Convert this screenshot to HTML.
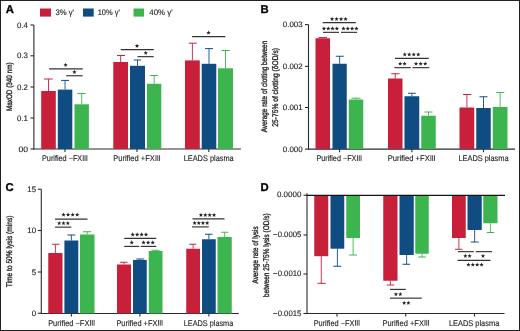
<!DOCTYPE html>
<html><head><meta charset="utf-8"><style>
html,body{margin:0;padding:0;background:#fff;}
svg{display:block;font-family:"Liberation Sans", sans-serif;will-change:transform;text-rendering:geometricPrecision;} text{fill:#262626;stroke:#262626;stroke-width:0.14px} text.b{fill:#000;stroke:#000;stroke-width:0.3px;} text.v{fill:#1a1a1a;stroke:#1a1a1a;stroke-width:0.32px;}
</style></head><body>
<svg width="520" height="331" viewBox="0 0 520 331">
<rect width="520" height="331" fill="#fff"/>
<rect x="0.5" y="0.5" width="519" height="330" fill="none" stroke="#222" stroke-width="1"/>
<text class="b" x="5.7" y="13.0" font-size="11.3" text-anchor="start" font-weight="bold">A</text>
<rect x="40" y="8.5" width="11.00" height="8.10" fill="#C8203A"/>
<rect x="83" y="8.5" width="10.70" height="8.10" fill="#0E4C82"/>
<rect x="133.5" y="8.5" width="10.50" height="8.10" fill="#3DB54E"/>
<text x="55.4" y="14.9" font-size="8" text-anchor="start" font-weight="normal" textLength="18.6" lengthAdjust="spacingAndGlyphs">3% γ'</text>
<text x="97.7" y="14.9" font-size="8" text-anchor="start" font-weight="normal" textLength="22.3" lengthAdjust="spacingAndGlyphs">10% γ'</text>
<text x="149.3" y="14.9" font-size="8" text-anchor="start" font-weight="normal" textLength="23.4" lengthAdjust="spacingAndGlyphs">40% γ'</text>
<line x1="33.9" y1="25" x2="33.9" y2="149.5" stroke="#2a2a2a" stroke-width="1.1"/>
<line x1="30.5" y1="25" x2="33.9" y2="25" stroke="#2a2a2a" stroke-width="1.1"/>
<text x="28.0" y="27.5" font-size="7.9" text-anchor="end" font-weight="normal">0.4</text>
<line x1="30.5" y1="55.8" x2="33.9" y2="55.8" stroke="#2a2a2a" stroke-width="1.1"/>
<text x="28.0" y="58.3" font-size="7.9" text-anchor="end" font-weight="normal">0.3</text>
<line x1="30.5" y1="87" x2="33.9" y2="87" stroke="#2a2a2a" stroke-width="1.1"/>
<text x="28.0" y="89.5" font-size="7.9" text-anchor="end" font-weight="normal">0.2</text>
<line x1="30.5" y1="118" x2="33.9" y2="118" stroke="#2a2a2a" stroke-width="1.1"/>
<text x="28.0" y="120.5" font-size="7.9" text-anchor="end" font-weight="normal">0.1</text>
<line x1="30.5" y1="149" x2="33.9" y2="149" stroke="#2a2a2a" stroke-width="1.1"/>
<text x="28.0" y="151.5" font-size="7.9" text-anchor="end" font-weight="normal" textLength="9.6" lengthAdjust="spacingAndGlyphs">00</text>
<line x1="33.4" y1="149" x2="241" y2="149" stroke="#2a2a2a" stroke-width="1.2"/>
<line x1="65" y1="149" x2="65" y2="152" stroke="#2a2a2a" stroke-width="1.1"/>
<line x1="137" y1="149" x2="137" y2="152" stroke="#2a2a2a" stroke-width="1.1"/>
<line x1="208.8" y1="149" x2="208.8" y2="152" stroke="#2a2a2a" stroke-width="1.1"/>
<rect x="41.2" y="91" width="14.60" height="58.00" fill="#C8203A"/>
<line x1="48.5" y1="91" x2="48.5" y2="79" stroke="#C8203A" stroke-width="0.9"/>
<line x1="44.1" y1="79" x2="52.75" y2="79" stroke="#C8203A" stroke-width="1.0"/>
<rect x="57.8" y="89.6" width="14.50" height="59.40" fill="#0E4C82"/>
<line x1="65.05" y1="89.6" x2="65.05" y2="80.4" stroke="#0E4C82" stroke-width="0.9"/>
<line x1="61" y1="80.4" x2="69" y2="80.4" stroke="#0E4C82" stroke-width="1.0"/>
<rect x="74.5" y="104.3" width="14.40" height="44.70" fill="#3DB54E"/>
<line x1="81.7" y1="104.3" x2="81.7" y2="93.5" stroke="#3DB54E" stroke-width="0.9"/>
<line x1="77.3" y1="93.5" x2="85.6" y2="93.5" stroke="#3DB54E" stroke-width="1.0"/>
<rect x="113.3" y="62" width="14.70" height="87.00" fill="#C8203A"/>
<line x1="120.65" y1="62" x2="120.65" y2="55.5" stroke="#C8203A" stroke-width="0.9"/>
<line x1="117" y1="55.5" x2="125" y2="55.5" stroke="#C8203A" stroke-width="1.0"/>
<rect x="130" y="65.8" width="15.00" height="83.20" fill="#0E4C82"/>
<line x1="137.5" y1="65.8" x2="137.5" y2="60" stroke="#0E4C82" stroke-width="0.9"/>
<line x1="133.75" y1="60" x2="141.25" y2="60" stroke="#0E4C82" stroke-width="1.0"/>
<rect x="147" y="83.8" width="14.30" height="65.20" fill="#3DB54E"/>
<line x1="154.15" y1="83.8" x2="154.15" y2="75.5" stroke="#3DB54E" stroke-width="0.9"/>
<line x1="150" y1="75.5" x2="158" y2="75.5" stroke="#3DB54E" stroke-width="1.0"/>
<rect x="185" y="60.4" width="14.80" height="88.60" fill="#C8203A"/>
<line x1="192.4" y1="60.4" x2="192.4" y2="43.2" stroke="#C8203A" stroke-width="0.9"/>
<line x1="188.75" y1="43.2" x2="196.75" y2="43.2" stroke="#C8203A" stroke-width="1.0"/>
<rect x="201.7" y="63.8" width="14.60" height="85.20" fill="#0E4C82"/>
<line x1="209.0" y1="63.8" x2="209.0" y2="48.6" stroke="#0E4C82" stroke-width="0.9"/>
<line x1="205" y1="48.6" x2="213" y2="48.6" stroke="#0E4C82" stroke-width="1.0"/>
<rect x="218" y="68.3" width="15.00" height="80.70" fill="#3DB54E"/>
<line x1="225.5" y1="68.3" x2="225.5" y2="50.5" stroke="#3DB54E" stroke-width="0.9"/>
<line x1="221.5" y1="50.5" x2="229.8" y2="50.5" stroke="#3DB54E" stroke-width="1.0"/>
<line x1="49.1" y1="68.9" x2="82.75" y2="68.9" stroke="#333" stroke-width="1.15"/>
<polygon points="65.60,62.75 66.18,64.21 67.74,64.30 66.53,65.30 66.92,66.82 65.60,65.98 64.28,66.82 64.67,65.30 63.46,64.30 65.02,64.21" fill="#222"/>
<line x1="66.25" y1="75.75" x2="82.75" y2="75.75" stroke="#333" stroke-width="1.15"/>
<polygon points="74.40,69.85 74.98,71.31 76.54,71.40 75.33,72.40 75.72,73.92 74.40,73.08 73.08,73.92 73.47,72.40 72.26,71.40 73.82,71.31" fill="#222"/>
<line x1="120.75" y1="49.65" x2="153.75" y2="49.65" stroke="#333" stroke-width="1.15"/>
<polygon points="137.00,43.65 137.58,45.11 139.14,45.20 137.93,46.20 138.32,47.72 137.00,46.88 135.68,47.72 136.07,46.20 134.86,45.20 136.42,45.11" fill="#222"/>
<line x1="137.5" y1="56.65" x2="153.75" y2="56.65" stroke="#333" stroke-width="1.15"/>
<polygon points="145.75,50.75 146.33,52.21 147.89,52.30 146.68,53.30 147.07,54.82 145.75,53.98 144.43,54.82 144.82,53.30 143.61,52.30 145.17,52.21" fill="#222"/>
<line x1="192.1" y1="36.55" x2="225.3" y2="36.55" stroke="#333" stroke-width="1.15"/>
<polygon points="208.50,30.45 209.08,31.91 210.64,32.00 209.43,33.00 209.82,34.52 208.50,33.68 207.18,34.52 207.57,33.00 206.36,32.00 207.92,31.91" fill="#222"/>
<text x="42.0" y="161" font-size="8.3" text-anchor="start" font-weight="normal" textLength="40.2" lengthAdjust="spacingAndGlyphs">Purified −FX</text>
<rect x="82.75" y="155.20" width="1.0" height="5.8" fill="#4a4a4a"/>
<rect x="84.55" y="155.20" width="1.0" height="5.8" fill="#4a4a4a"/>
<rect x="86.35" y="155.20" width="1.0" height="5.8" fill="#4a4a4a"/>
<text x="113.2" y="161" font-size="8.3" text-anchor="start" font-weight="normal" textLength="41.7" lengthAdjust="spacingAndGlyphs">Purified +FX</text>
<rect x="155.45" y="155.20" width="1.0" height="5.8" fill="#4a4a4a"/>
<rect x="157.25" y="155.20" width="1.0" height="5.8" fill="#4a4a4a"/>
<rect x="159.05" y="155.20" width="1.0" height="5.8" fill="#4a4a4a"/>
<text x="183.70000000000002" y="161" font-size="8.3" text-anchor="start" font-weight="normal" textLength="50.0" lengthAdjust="spacingAndGlyphs">LEADS plasma</text>
<text class="v" transform="translate(11.6,86.75) rotate(-90)" x="0" y="0" font-size="8" text-anchor="middle" textLength="48.6" lengthAdjust="spacingAndGlyphs">MaxOD (340 nm)</text>
<text class="b" x="260.6" y="13.4" font-size="11.3" text-anchor="start" font-weight="bold">B</text>
<line x1="308.5" y1="24.6" x2="308.5" y2="149.6" stroke="#2a2a2a" stroke-width="1.1"/>
<line x1="305" y1="24.6" x2="308.5" y2="24.6" stroke="#2a2a2a" stroke-width="1.1"/>
<text x="302.6" y="27.0" font-size="7.9" text-anchor="end" font-weight="normal" textLength="19.8" lengthAdjust="spacingAndGlyphs">0.003</text>
<line x1="305" y1="66.4" x2="308.5" y2="66.4" stroke="#2a2a2a" stroke-width="1.1"/>
<text x="302.6" y="68.80000000000001" font-size="7.9" text-anchor="end" font-weight="normal" textLength="19.8" lengthAdjust="spacingAndGlyphs">0.002</text>
<line x1="305" y1="107.5" x2="308.5" y2="107.5" stroke="#2a2a2a" stroke-width="1.1"/>
<text x="302.6" y="109.9" font-size="7.9" text-anchor="end" font-weight="normal" textLength="19.8" lengthAdjust="spacingAndGlyphs">0.001</text>
<line x1="305" y1="149.1" x2="308.5" y2="149.1" stroke="#2a2a2a" stroke-width="1.1"/>
<text x="302.6" y="151.5" font-size="7.9" text-anchor="end" font-weight="normal" textLength="19.8" lengthAdjust="spacingAndGlyphs">0.000</text>
<line x1="308" y1="149.1" x2="515" y2="149.1" stroke="#2a2a2a" stroke-width="1.2"/>
<line x1="339.6" y1="149.1" x2="339.6" y2="152.2" stroke="#2a2a2a" stroke-width="1.1"/>
<line x1="411.9" y1="149.1" x2="411.9" y2="152.2" stroke="#2a2a2a" stroke-width="1.1"/>
<line x1="483.5" y1="149.1" x2="483.5" y2="152.2" stroke="#2a2a2a" stroke-width="1.1"/>
<rect x="315.5" y="38.25" width="14.50" height="110.85" fill="#C8203A"/>
<line x1="322.75" y1="38.25" x2="322.75" y2="37.6" stroke="#C8203A" stroke-width="0.9"/>
<line x1="318.5" y1="37.6" x2="327" y2="37.6" stroke="#C8203A" stroke-width="1.0"/>
<rect x="332.5" y="63.75" width="14.25" height="85.35" fill="#0E4C82"/>
<line x1="339.625" y1="63.75" x2="339.625" y2="56.25" stroke="#0E4C82" stroke-width="0.9"/>
<line x1="335.75" y1="56.25" x2="343.75" y2="56.25" stroke="#0E4C82" stroke-width="1.0"/>
<rect x="348.75" y="99.5" width="14.50" height="49.60" fill="#3DB54E"/>
<line x1="356.0" y1="99.5" x2="356.0" y2="98.2" stroke="#3DB54E" stroke-width="0.9"/>
<line x1="351.5" y1="98.2" x2="360.5" y2="98.2" stroke="#3DB54E" stroke-width="1.0"/>
<rect x="388" y="78.5" width="14.50" height="70.60" fill="#C8203A"/>
<line x1="395.25" y1="78.5" x2="395.25" y2="73.75" stroke="#C8203A" stroke-width="0.9"/>
<line x1="391.25" y1="73.75" x2="399.5" y2="73.75" stroke="#C8203A" stroke-width="1.0"/>
<rect x="404.5" y="96.25" width="14.75" height="52.85" fill="#0E4C82"/>
<line x1="411.875" y1="96.25" x2="411.875" y2="93.25" stroke="#0E4C82" stroke-width="0.9"/>
<line x1="408" y1="93.25" x2="415.75" y2="93.25" stroke="#0E4C82" stroke-width="1.0"/>
<rect x="421.25" y="115.75" width="14.50" height="33.35" fill="#3DB54E"/>
<line x1="428.5" y1="115.75" x2="428.5" y2="112" stroke="#3DB54E" stroke-width="0.9"/>
<line x1="424.5" y1="112" x2="432.5" y2="112" stroke="#3DB54E" stroke-width="1.0"/>
<rect x="459.5" y="107.5" width="14.75" height="41.60" fill="#C8203A"/>
<line x1="466.875" y1="107.5" x2="466.875" y2="94.5" stroke="#C8203A" stroke-width="0.9"/>
<line x1="463" y1="94.5" x2="471.25" y2="94.5" stroke="#C8203A" stroke-width="1.0"/>
<rect x="476.25" y="108" width="14.50" height="41.10" fill="#0E4C82"/>
<line x1="483.5" y1="108" x2="483.5" y2="96.75" stroke="#0E4C82" stroke-width="0.9"/>
<line x1="479.5" y1="96.75" x2="487.5" y2="96.75" stroke="#0E4C82" stroke-width="1.0"/>
<rect x="492.75" y="107" width="14.75" height="42.10" fill="#3DB54E"/>
<line x1="500.125" y1="107" x2="500.125" y2="92.5" stroke="#3DB54E" stroke-width="0.9"/>
<line x1="496.25" y1="92.5" x2="504.25" y2="92.5" stroke="#3DB54E" stroke-width="1.0"/>
<line x1="322.7" y1="22.65" x2="355.8" y2="22.65" stroke="#333" stroke-width="1.15"/>
<polygon points="332.05,16.85 332.63,18.31 334.19,18.40 332.98,19.40 333.37,20.92 332.05,20.08 330.73,20.92 331.12,19.40 329.91,18.40 331.47,18.31" fill="#222"/>
<polygon points="336.55,16.85 337.13,18.31 338.69,18.40 337.48,19.40 337.87,20.92 336.55,20.08 335.23,20.92 335.62,19.40 334.41,18.40 335.97,18.31" fill="#222"/>
<polygon points="341.05,16.85 341.63,18.31 343.19,18.40 341.98,19.40 342.37,20.92 341.05,20.08 339.73,20.92 340.12,19.40 338.91,18.40 340.47,18.31" fill="#222"/>
<polygon points="345.55,16.85 346.13,18.31 347.69,18.40 346.48,19.40 346.87,20.92 345.55,20.08 344.23,20.92 344.62,19.40 343.41,18.40 344.97,18.31" fill="#222"/>
<line x1="323" y1="32.35" x2="339" y2="32.35" stroke="#333" stroke-width="1.15"/>
<polygon points="323.95,26.35 324.53,27.81 326.09,27.90 324.88,28.90 325.27,30.42 323.95,29.58 322.63,30.42 323.02,28.90 321.81,27.90 323.37,27.81" fill="#222"/>
<polygon points="328.25,26.35 328.83,27.81 330.39,27.90 329.18,28.90 329.57,30.42 328.25,29.58 326.93,30.42 327.32,28.90 326.11,27.90 327.67,27.81" fill="#222"/>
<polygon points="332.55,26.35 333.13,27.81 334.69,27.90 333.48,28.90 333.87,30.42 332.55,29.58 331.23,30.42 331.62,28.90 330.41,27.90 331.97,27.81" fill="#222"/>
<polygon points="336.85,26.35 337.43,27.81 338.99,27.90 337.78,28.90 338.17,30.42 336.85,29.58 335.53,30.42 335.92,28.90 334.71,27.90 336.27,27.81" fill="#222"/>
<line x1="341" y1="32.35" x2="357.1" y2="32.35" stroke="#333" stroke-width="1.15"/>
<polygon points="343.46,26.35 344.04,27.81 345.60,27.90 344.39,28.90 344.79,30.42 343.46,29.58 342.14,30.42 342.53,28.90 341.32,27.90 342.89,27.81" fill="#222"/>
<polygon points="347.79,26.35 348.36,27.81 349.93,27.90 348.72,28.90 349.11,30.42 347.79,29.58 346.46,30.42 346.86,28.90 345.65,27.90 347.21,27.81" fill="#222"/>
<polygon points="352.11,26.35 352.69,27.81 354.25,27.90 353.04,28.90 353.44,30.42 352.11,29.58 350.79,30.42 351.18,28.90 349.97,27.90 351.54,27.81" fill="#222"/>
<polygon points="356.44,26.35 357.01,27.81 358.58,27.90 357.37,28.90 357.76,30.42 356.44,29.58 355.11,30.42 355.51,28.90 354.30,27.90 355.86,27.81" fill="#222"/>
<line x1="395" y1="58.4" x2="428.75" y2="58.4" stroke="#333" stroke-width="1.15"/>
<polygon points="404.75,52.25 405.33,53.71 406.89,53.80 405.68,54.80 406.07,56.32 404.75,55.48 403.43,56.32 403.82,54.80 402.61,53.80 404.17,53.71" fill="#222"/>
<polygon points="409.25,52.25 409.83,53.71 411.39,53.80 410.18,54.80 410.57,56.32 409.25,55.48 407.93,56.32 408.32,54.80 407.11,53.80 408.67,53.71" fill="#222"/>
<polygon points="413.75,52.25 414.33,53.71 415.89,53.80 414.68,54.80 415.07,56.32 413.75,55.48 412.43,56.32 412.82,54.80 411.61,53.80 413.17,53.71" fill="#222"/>
<polygon points="418.25,52.25 418.83,53.71 420.39,53.80 419.18,54.80 419.57,56.32 418.25,55.48 416.93,56.32 417.32,54.80 416.11,53.80 417.67,53.71" fill="#222"/>
<line x1="394.5" y1="67.65" x2="410.75" y2="67.65" stroke="#333" stroke-width="1.15"/>
<polygon points="400.19,61.50 400.76,62.96 402.33,63.05 401.12,64.05 401.51,65.57 400.19,64.73 398.86,65.57 399.26,64.05 398.05,63.05 399.61,62.96" fill="#222"/>
<polygon points="404.56,61.50 405.14,62.96 406.70,63.05 405.49,64.05 405.89,65.57 404.56,64.73 403.24,65.57 403.63,64.05 402.42,63.05 403.99,62.96" fill="#222"/>
<line x1="412.5" y1="67.65" x2="429.25" y2="67.65" stroke="#333" stroke-width="1.15"/>
<polygon points="416.04,61.50 416.62,62.96 418.18,63.05 416.97,64.05 417.36,65.57 416.04,64.73 414.72,65.57 415.11,64.05 413.90,63.05 415.47,62.96" fill="#222"/>
<polygon points="420.62,61.50 421.20,62.96 422.76,63.05 421.56,64.05 421.95,65.57 420.62,64.73 419.30,65.57 419.69,64.05 418.49,63.05 420.05,62.96" fill="#222"/>
<polygon points="425.21,61.50 425.78,62.96 427.35,63.05 426.14,64.05 426.53,65.57 425.21,64.73 423.89,65.57 424.28,64.05 423.07,63.05 424.63,62.96" fill="#222"/>
<text x="316.4" y="161" font-size="8.3" text-anchor="start" font-weight="normal" textLength="40.0" lengthAdjust="spacingAndGlyphs">Purified −FX</text>
<rect x="356.95" y="155.20" width="1.0" height="5.8" fill="#4a4a4a"/>
<rect x="358.75" y="155.20" width="1.0" height="5.8" fill="#4a4a4a"/>
<rect x="360.55" y="155.20" width="1.0" height="5.8" fill="#4a4a4a"/>
<text x="387.7" y="161" font-size="8.3" text-anchor="start" font-weight="normal" textLength="42.1" lengthAdjust="spacingAndGlyphs">Purified +FX</text>
<rect x="430.35" y="155.20" width="1.0" height="5.8" fill="#4a4a4a"/>
<rect x="432.15" y="155.20" width="1.0" height="5.8" fill="#4a4a4a"/>
<rect x="433.95" y="155.20" width="1.0" height="5.8" fill="#4a4a4a"/>
<text x="458.4" y="161" font-size="8.3" text-anchor="start" font-weight="normal" textLength="50.2" lengthAdjust="spacingAndGlyphs">LEADS plasma</text>
<text class="v" transform="translate(267.1,86.55) rotate(-90)" x="0" y="0" font-size="8.2" text-anchor="middle" textLength="91.5" lengthAdjust="spacingAndGlyphs">Average rate of clotting between</text>
<text class="v" transform="translate(277.7,87.35) rotate(-90)" x="0" y="0" font-size="8.2" text-anchor="middle" textLength="78.6" lengthAdjust="spacingAndGlyphs">25-75% of clotting (δOD/s)</text>
<text class="b" x="5.6" y="190.9" font-size="11.3" text-anchor="start" font-weight="bold">C</text>
<line x1="41.3" y1="189.2" x2="41.3" y2="313.8" stroke="#2a2a2a" stroke-width="1.1"/>
<line x1="37.8" y1="189.2" x2="41.3" y2="189.2" stroke="#2a2a2a" stroke-width="1.1"/>
<text x="36.1" y="191.79999999999998" font-size="7.9" text-anchor="end" font-weight="normal">15</text>
<line x1="37.8" y1="230.5" x2="41.3" y2="230.5" stroke="#2a2a2a" stroke-width="1.1"/>
<text x="36.1" y="233.1" font-size="7.9" text-anchor="end" font-weight="normal">10</text>
<line x1="37.8" y1="272" x2="41.3" y2="272" stroke="#2a2a2a" stroke-width="1.1"/>
<text x="36.1" y="274.6" font-size="7.9" text-anchor="end" font-weight="normal">5</text>
<line x1="37.8" y1="313.25" x2="41.3" y2="313.25" stroke="#2a2a2a" stroke-width="1.1"/>
<text x="36.1" y="315.85" font-size="7.9" text-anchor="end" font-weight="normal">0</text>
<line x1="40.8" y1="313.5" x2="238.8" y2="313.5" stroke="#2a2a2a" stroke-width="1.1"/>
<line x1="71.4" y1="313.5" x2="71.4" y2="316.5" stroke="#2a2a2a" stroke-width="1.1"/>
<line x1="139.9" y1="313.5" x2="139.9" y2="316.5" stroke="#2a2a2a" stroke-width="1.1"/>
<line x1="208.9" y1="313.5" x2="208.9" y2="316.5" stroke="#2a2a2a" stroke-width="1.1"/>
<rect x="48.25" y="253" width="14.25" height="60.50" fill="#C8203A"/>
<line x1="55.375" y1="253" x2="55.375" y2="244.25" stroke="#C8203A" stroke-width="0.9"/>
<line x1="52" y1="244.25" x2="59.5" y2="244.25" stroke="#C8203A" stroke-width="1.0"/>
<rect x="64.4" y="240.5" width="13.90" height="73.00" fill="#0E4C82"/>
<line x1="71.35" y1="240.5" x2="71.35" y2="235" stroke="#0E4C82" stroke-width="0.9"/>
<line x1="67.4" y1="235" x2="75.4" y2="235" stroke="#0E4C82" stroke-width="1.0"/>
<rect x="80" y="234.5" width="14.50" height="79.00" fill="#3DB54E"/>
<line x1="87.25" y1="234.5" x2="87.25" y2="231.75" stroke="#3DB54E" stroke-width="0.9"/>
<line x1="83" y1="231.75" x2="91.25" y2="231.75" stroke="#3DB54E" stroke-width="1.0"/>
<rect x="117" y="264.5" width="14.00" height="49.00" fill="#C8203A"/>
<line x1="124.0" y1="264.5" x2="124.0" y2="262.25" stroke="#C8203A" stroke-width="0.9"/>
<line x1="120" y1="262.25" x2="127.5" y2="262.25" stroke="#C8203A" stroke-width="1.0"/>
<rect x="133" y="260" width="13.75" height="53.50" fill="#0E4C82"/>
<line x1="139.875" y1="260" x2="139.875" y2="259" stroke="#0E4C82" stroke-width="0.9"/>
<line x1="136.25" y1="259" x2="144.25" y2="259" stroke="#0E4C82" stroke-width="1.0"/>
<rect x="148.75" y="251" width="13.75" height="62.50" fill="#3DB54E"/>
<line x1="155.625" y1="251" x2="155.625" y2="250.25" stroke="#3DB54E" stroke-width="0.9"/>
<line x1="151.5" y1="250.25" x2="159.5" y2="250.25" stroke="#3DB54E" stroke-width="1.0"/>
<rect x="186.25" y="248.75" width="13.75" height="64.75" fill="#C8203A"/>
<line x1="193.125" y1="248.75" x2="193.125" y2="244.25" stroke="#C8203A" stroke-width="0.9"/>
<line x1="189.25" y1="244.25" x2="196.25" y2="244.25" stroke="#C8203A" stroke-width="1.0"/>
<rect x="202" y="239.25" width="13.75" height="74.25" fill="#0E4C82"/>
<line x1="208.875" y1="239.25" x2="208.875" y2="234.25" stroke="#0E4C82" stroke-width="0.9"/>
<line x1="205" y1="234.25" x2="212.5" y2="234.25" stroke="#0E4C82" stroke-width="1.0"/>
<rect x="217.5" y="237" width="14.25" height="76.50" fill="#3DB54E"/>
<line x1="224.625" y1="237" x2="224.625" y2="232.25" stroke="#3DB54E" stroke-width="0.9"/>
<line x1="221.25" y1="232.25" x2="228.25" y2="232.25" stroke="#3DB54E" stroke-width="1.0"/>
<line x1="55" y1="219.15" x2="87.5" y2="219.15" stroke="#333" stroke-width="1.15"/>
<polygon points="63.53,212.55 64.11,214.01 65.67,214.10 64.46,215.10 64.85,216.62 63.53,215.78 62.21,216.62 62.60,215.10 61.39,214.10 62.96,214.01" fill="#222"/>
<polygon points="68.09,212.55 68.67,214.01 70.23,214.10 69.03,215.10 69.42,216.62 68.09,215.78 66.77,216.62 67.16,215.10 65.95,214.10 67.52,214.01" fill="#222"/>
<polygon points="72.66,212.55 73.23,214.01 74.80,214.10 73.59,215.10 73.98,216.62 72.66,215.78 71.33,216.62 71.72,215.10 70.52,214.10 72.08,214.01" fill="#222"/>
<polygon points="77.22,212.55 77.79,214.01 79.36,214.10 78.15,215.10 78.54,216.62 77.22,215.78 75.90,216.62 76.29,215.10 75.08,214.10 76.64,214.01" fill="#222"/>
<line x1="55" y1="227.15" x2="71.25" y2="227.15" stroke="#333" stroke-width="1.15"/>
<polygon points="59.17,221.05 59.74,222.51 61.31,222.60 60.10,223.60 60.49,225.12 59.17,224.28 57.84,225.12 58.23,223.60 57.03,222.60 58.59,222.51" fill="#222"/>
<polygon points="63.50,221.05 64.08,222.51 65.64,222.60 64.43,223.60 64.82,225.12 63.50,224.28 62.18,225.12 62.57,223.60 61.36,222.60 62.92,222.51" fill="#222"/>
<polygon points="67.83,221.05 68.41,222.51 69.97,222.60 68.77,223.60 69.16,225.12 67.83,224.28 66.51,225.12 66.90,223.60 65.69,222.60 67.26,222.51" fill="#222"/>
<line x1="124.25" y1="238.4" x2="156.25" y2="238.4" stroke="#333" stroke-width="1.15"/>
<polygon points="132.72,232.35 133.29,233.81 134.86,233.90 133.65,234.90 134.04,236.42 132.72,235.58 131.40,236.42 131.79,234.90 130.58,233.90 132.14,233.81" fill="#222"/>
<polygon points="137.16,232.35 137.73,233.81 139.30,233.90 138.09,234.90 138.48,236.42 137.16,235.58 135.83,236.42 136.22,234.90 135.02,233.90 136.58,233.81" fill="#222"/>
<polygon points="141.59,232.35 142.17,233.81 143.73,233.90 142.53,234.90 142.92,236.42 141.59,235.58 140.27,236.42 140.66,234.90 139.45,233.90 141.02,233.81" fill="#222"/>
<polygon points="146.03,232.35 146.61,233.81 148.17,233.90 146.96,234.90 147.35,236.42 146.03,235.58 144.71,236.42 145.10,234.90 143.89,233.90 145.46,233.81" fill="#222"/>
<line x1="124.25" y1="246.4" x2="139.25" y2="246.4" stroke="#333" stroke-width="1.15"/>
<polygon points="131.75,240.35 132.33,241.81 133.89,241.90 132.68,242.90 133.07,244.42 131.75,243.58 130.43,244.42 130.82,242.90 129.61,241.90 131.17,241.81" fill="#222"/>
<line x1="140.75" y1="246.4" x2="156.25" y2="246.4" stroke="#333" stroke-width="1.15"/>
<polygon points="143.54,240.35 144.12,241.81 145.68,241.90 144.47,242.90 144.86,244.42 143.54,243.58 142.22,244.42 142.61,242.90 141.40,241.90 142.97,241.81" fill="#222"/>
<polygon points="148.12,240.35 148.70,241.81 150.26,241.90 149.06,242.90 149.45,244.42 148.12,243.58 146.80,244.42 147.19,242.90 145.99,241.90 147.55,241.81" fill="#222"/>
<polygon points="152.71,240.35 153.28,241.81 154.85,241.90 153.64,242.90 154.03,244.42 152.71,243.58 151.39,244.42 151.78,242.90 150.57,241.90 152.13,241.81" fill="#222"/>
<line x1="192.5" y1="218.9" x2="224.5" y2="218.9" stroke="#333" stroke-width="1.15"/>
<polygon points="200.94,212.85 201.51,214.31 203.08,214.40 201.87,215.40 202.26,216.92 200.94,216.08 199.61,216.92 200.01,215.40 198.80,214.40 200.36,214.31" fill="#222"/>
<polygon points="205.31,212.85 205.89,214.31 207.45,214.40 206.24,215.40 206.64,216.92 205.31,216.08 203.99,216.92 204.38,215.40 203.17,214.40 204.74,214.31" fill="#222"/>
<polygon points="209.69,212.85 210.26,214.31 211.83,214.40 210.62,215.40 211.01,216.92 209.69,216.08 208.36,216.92 208.76,215.40 207.55,214.40 209.11,214.31" fill="#222"/>
<polygon points="214.06,212.85 214.64,214.31 216.20,214.40 214.99,215.40 215.39,216.92 214.06,216.08 212.74,216.92 213.13,215.40 211.92,214.40 213.49,214.31" fill="#222"/>
<line x1="192" y1="226.9" x2="208.75" y2="226.9" stroke="#333" stroke-width="1.15"/>
<polygon points="194.59,220.85 195.17,222.31 196.73,222.40 195.53,223.40 195.92,224.92 194.59,224.08 193.27,224.92 193.66,223.40 192.45,222.40 194.02,222.31" fill="#222"/>
<polygon points="198.78,220.85 199.36,222.31 200.92,222.40 199.71,223.40 200.10,224.92 198.78,224.08 197.46,224.92 197.85,223.40 196.64,222.40 198.21,222.31" fill="#222"/>
<polygon points="202.97,220.85 203.54,222.31 205.11,222.40 203.90,223.40 204.29,224.92 202.97,224.08 201.65,224.92 202.04,223.40 200.83,222.40 202.39,222.31" fill="#222"/>
<polygon points="207.16,220.85 207.73,222.31 209.30,222.40 208.09,223.40 208.48,224.92 207.16,224.08 205.83,224.92 206.22,223.40 205.02,222.40 206.58,222.31" fill="#222"/>
<text x="48.15" y="325.7" font-size="8.3" text-anchor="start" font-weight="normal" textLength="41.25" lengthAdjust="spacingAndGlyphs">Purified −FX</text>
<rect x="89.95" y="319.90" width="1.0" height="5.8" fill="#4a4a4a"/>
<rect x="91.75" y="319.90" width="1.0" height="5.8" fill="#4a4a4a"/>
<rect x="93.55" y="319.90" width="1.0" height="5.8" fill="#4a4a4a"/>
<text x="116.4" y="325.7" font-size="8.3" text-anchor="start" font-weight="normal" textLength="41.0" lengthAdjust="spacingAndGlyphs">Purified +FX</text>
<rect x="157.95" y="319.90" width="1.0" height="5.8" fill="#4a4a4a"/>
<rect x="159.75" y="319.90" width="1.0" height="5.8" fill="#4a4a4a"/>
<rect x="161.55" y="319.90" width="1.0" height="5.8" fill="#4a4a4a"/>
<text x="183.70000000000002" y="325.7" font-size="8.3" text-anchor="start" font-weight="normal" textLength="49.6" lengthAdjust="spacingAndGlyphs">LEADS plasma</text>
<text class="v" transform="translate(11.7,251.35) rotate(-90)" x="0" y="0" font-size="8.2" text-anchor="middle" textLength="71.6" lengthAdjust="spacingAndGlyphs">Time to 50% lysis (mins)</text>
<text class="b" x="260.6" y="190.5" font-size="11.3" text-anchor="start" font-weight="bold">D</text>
<line x1="307" y1="193.3" x2="307" y2="313.8" stroke="#2a2a2a" stroke-width="1.1"/>
<line x1="303.5" y1="195.25" x2="307" y2="195.25" stroke="#2a2a2a" stroke-width="1.1"/>
<text x="301.4" y="197.45" font-size="7.9" text-anchor="end" font-weight="normal" textLength="24.5" lengthAdjust="spacingAndGlyphs">0.0000</text>
<line x1="303.5" y1="235" x2="307" y2="235" stroke="#2a2a2a" stroke-width="1.1"/>
<text x="301.4" y="237.2" font-size="7.9" text-anchor="end" font-weight="normal" textLength="28.3" lengthAdjust="spacingAndGlyphs">−0.0005</text>
<line x1="303.5" y1="274" x2="307" y2="274" stroke="#2a2a2a" stroke-width="1.1"/>
<text x="301.4" y="276.2" font-size="7.9" text-anchor="end" font-weight="normal" textLength="28.3" lengthAdjust="spacingAndGlyphs">−0.0010</text>
<line x1="303.5" y1="313.5" x2="307" y2="313.5" stroke="#2a2a2a" stroke-width="1.1"/>
<text x="301.4" y="315.7" font-size="7.9" text-anchor="end" font-weight="normal" textLength="28.3" lengthAdjust="spacingAndGlyphs">−0.0015</text>
<line x1="306.5" y1="313.5" x2="504.5" y2="313.5" stroke="#2a2a2a" stroke-width="1.1"/>
<line x1="337" y1="313.5" x2="337" y2="316.5" stroke="#2a2a2a" stroke-width="1.1"/>
<line x1="405.75" y1="313.5" x2="405.75" y2="316.5" stroke="#2a2a2a" stroke-width="1.1"/>
<line x1="474.5" y1="313.5" x2="474.5" y2="316.5" stroke="#2a2a2a" stroke-width="1.1"/>
<rect x="314.25" y="195.25" width="14.00" height="60.95" fill="#C8203A"/>
<line x1="321.25" y1="256.2" x2="321.25" y2="283.3" stroke="#C8203A" stroke-width="0.9"/>
<line x1="317.5" y1="283.3" x2="325.75" y2="283.3" stroke="#C8203A" stroke-width="1.0"/>
<rect x="330.5" y="195.25" width="13.75" height="53.45" fill="#0E4C82"/>
<line x1="337.375" y1="248.7" x2="337.375" y2="266.25" stroke="#0E4C82" stroke-width="0.9"/>
<line x1="333.25" y1="266.25" x2="341.25" y2="266.25" stroke="#0E4C82" stroke-width="1.0"/>
<rect x="346.25" y="195.25" width="13.75" height="42.75" fill="#3DB54E"/>
<line x1="353.125" y1="238" x2="353.125" y2="255" stroke="#3DB54E" stroke-width="0.9"/>
<line x1="349.25" y1="255" x2="357" y2="255" stroke="#3DB54E" stroke-width="1.0"/>
<rect x="383.25" y="195.25" width="14.25" height="85.50" fill="#C8203A"/>
<line x1="390.375" y1="280.75" x2="390.375" y2="285" stroke="#C8203A" stroke-width="0.9"/>
<line x1="386.75" y1="285" x2="394.25" y2="285" stroke="#C8203A" stroke-width="1.0"/>
<rect x="399.5" y="195.25" width="14.25" height="59.75" fill="#0E4C82"/>
<line x1="406.625" y1="255" x2="406.625" y2="264.25" stroke="#0E4C82" stroke-width="0.9"/>
<line x1="402.5" y1="264.25" x2="410" y2="264.25" stroke="#0E4C82" stroke-width="1.0"/>
<rect x="415.25" y="195.25" width="13.50" height="58.50" fill="#3DB54E"/>
<line x1="422.0" y1="253.75" x2="422.0" y2="257" stroke="#3DB54E" stroke-width="0.9"/>
<line x1="418.25" y1="257" x2="425.75" y2="257" stroke="#3DB54E" stroke-width="1.0"/>
<rect x="452" y="195.25" width="13.75" height="42.75" fill="#C8203A"/>
<line x1="458.875" y1="238" x2="458.875" y2="249.25" stroke="#C8203A" stroke-width="0.9"/>
<line x1="455" y1="249.25" x2="462.5" y2="249.25" stroke="#C8203A" stroke-width="1.0"/>
<rect x="467.5" y="195.25" width="14.25" height="34.75" fill="#0E4C82"/>
<line x1="474.625" y1="230" x2="474.625" y2="242" stroke="#0E4C82" stroke-width="0.9"/>
<line x1="470.75" y1="242" x2="478.75" y2="242" stroke="#0E4C82" stroke-width="1.0"/>
<rect x="483.25" y="195.25" width="14.25" height="28.00" fill="#3DB54E"/>
<line x1="490.375" y1="223.25" x2="490.375" y2="232.5" stroke="#3DB54E" stroke-width="0.9"/>
<line x1="486.75" y1="232.5" x2="494.25" y2="232.5" stroke="#3DB54E" stroke-width="1.0"/>
<line x1="306.5" y1="195.3" x2="505" y2="195.3" stroke="#151515" stroke-width="1.2"/>
<line x1="390" y1="289.4" x2="405.75" y2="289.4" stroke="#333" stroke-width="1.15"/>
<polygon points="395.94,292.00 396.51,293.46 398.08,293.55 396.87,294.55 397.26,296.07 395.94,295.23 394.61,296.07 395.01,294.55 393.80,293.55 395.36,293.46" fill="#222"/>
<polygon points="400.31,292.00 400.89,293.46 402.45,293.55 401.24,294.55 401.64,296.07 400.31,295.23 398.99,296.07 399.38,294.55 398.17,293.55 399.74,293.46" fill="#222"/>
<line x1="390" y1="298.15" x2="421.75" y2="298.15" stroke="#333" stroke-width="1.15"/>
<polygon points="404.12,300.75 404.70,302.21 406.26,302.30 405.06,303.30 405.45,304.82 404.12,303.98 402.80,304.82 403.19,303.30 401.99,302.30 403.55,302.21" fill="#222"/>
<polygon points="408.38,300.75 408.95,302.21 410.51,302.30 409.31,303.30 409.70,304.82 408.38,303.98 407.05,304.82 407.44,303.30 406.24,302.30 407.80,302.21" fill="#222"/>
<line x1="458" y1="251.65" x2="473.75" y2="251.65" stroke="#333" stroke-width="1.15"/>
<polygon points="465.38,253.75 465.95,255.21 467.51,255.30 466.31,256.30 466.70,257.82 465.38,256.98 464.05,257.82 464.44,256.30 463.24,255.30 464.80,255.21" fill="#222"/>
<polygon points="469.62,253.75 470.20,255.21 471.76,255.30 470.56,256.30 470.95,257.82 469.62,256.98 468.30,257.82 468.69,256.30 467.49,255.30 469.05,255.21" fill="#222"/>
<line x1="475.75" y1="251.65" x2="492" y2="251.65" stroke="#333" stroke-width="1.15"/>
<polygon points="483.00,253.75 483.58,255.21 485.14,255.30 483.93,256.30 484.32,257.82 483.00,256.98 481.68,257.82 482.07,256.30 480.86,255.30 482.42,255.21" fill="#222"/>
<line x1="457.5" y1="260.4" x2="490.5" y2="260.4" stroke="#333" stroke-width="1.15"/>
<polygon points="468.44,262.50 469.01,263.96 470.58,264.05 469.37,265.05 469.76,266.57 468.44,265.73 467.11,266.57 467.51,265.05 466.30,264.05 467.86,263.96" fill="#222"/>
<polygon points="472.81,262.50 473.39,263.96 474.95,264.05 473.74,265.05 474.14,266.57 472.81,265.73 471.49,266.57 471.88,265.05 470.67,264.05 472.24,263.96" fill="#222"/>
<polygon points="477.19,262.50 477.76,263.96 479.33,264.05 478.12,265.05 478.51,266.57 477.19,265.73 475.86,266.57 476.26,265.05 475.05,264.05 476.61,263.96" fill="#222"/>
<polygon points="481.56,262.50 482.14,263.96 483.70,264.05 482.49,265.05 482.89,266.57 481.56,265.73 480.24,266.57 480.63,265.05 479.42,264.05 480.99,263.96" fill="#222"/>
<text x="313.65" y="325.7" font-size="8.3" text-anchor="start" font-weight="normal" textLength="40.75" lengthAdjust="spacingAndGlyphs">Purified −FX</text>
<rect x="354.95" y="319.90" width="1.0" height="5.8" fill="#4a4a4a"/>
<rect x="356.75" y="319.90" width="1.0" height="5.8" fill="#4a4a4a"/>
<rect x="358.55" y="319.90" width="1.0" height="5.8" fill="#4a4a4a"/>
<text x="382.4" y="325.7" font-size="8.3" text-anchor="start" font-weight="normal" textLength="41.5" lengthAdjust="spacingAndGlyphs">Purified +FX</text>
<rect x="424.45" y="319.90" width="1.0" height="5.8" fill="#4a4a4a"/>
<rect x="426.25" y="319.90" width="1.0" height="5.8" fill="#4a4a4a"/>
<rect x="428.05" y="319.90" width="1.0" height="5.8" fill="#4a4a4a"/>
<text x="448.9" y="325.7" font-size="8.3" text-anchor="start" font-weight="normal" textLength="50.4" lengthAdjust="spacingAndGlyphs">LEADS plasma</text>
<text class="v" transform="translate(257.6,254.95) rotate(-90)" x="0" y="0" font-size="8.2" text-anchor="middle" textLength="57" lengthAdjust="spacingAndGlyphs">Average rate of lysis</text>
<text class="v" transform="translate(268.6,255.2) rotate(-90)" x="0" y="0" font-size="8.2" text-anchor="middle" textLength="83.5" lengthAdjust="spacingAndGlyphs">between 25-75% lysis (OD/s)</text>
</svg>
</body></html>
